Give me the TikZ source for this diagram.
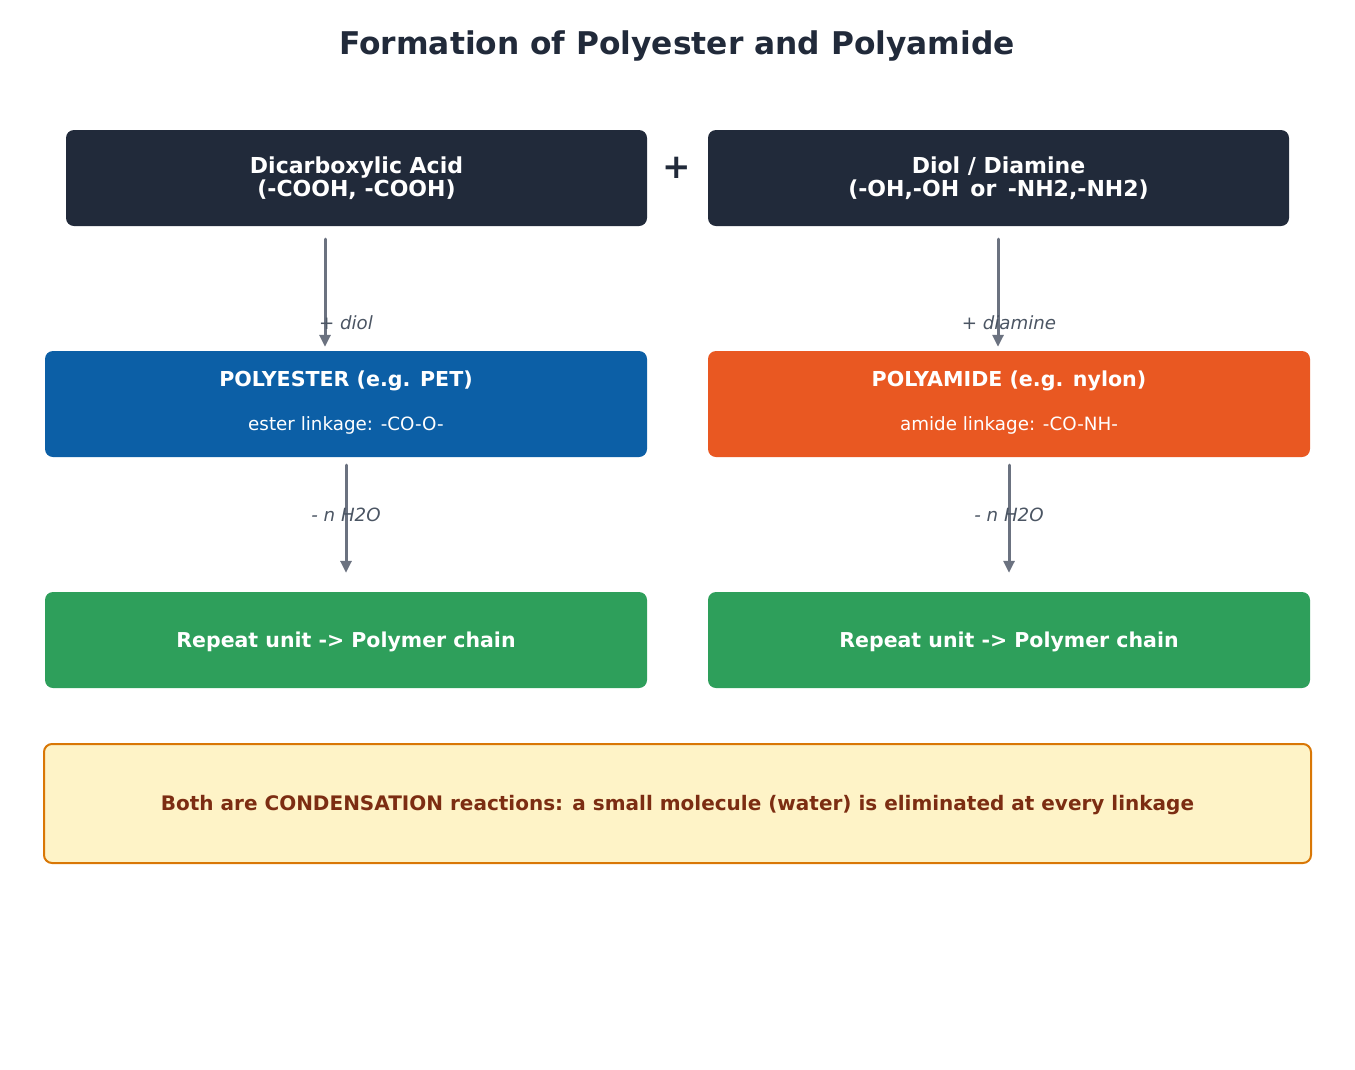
\documentclass[tikz,border=0pt]{standalone}
\usepackage{fontspec}
\setmainfont{DejaVu Sans}
\usetikzlibrary{arrows.meta}

\definecolor{ink}{HTML}{212A3A}
\definecolor{esterblue}{HTML}{0C5FA6}
\definecolor{amideorange}{HTML}{E95822}
\definecolor{chaingreen}{HTML}{2E9F5B}
\definecolor{notefill}{HTML}{FEF3C7}
\definecolor{noteline}{HTML}{D97706}
\definecolor{notetext}{HTML}{7C2D12}
\definecolor{arrowgray}{HTML}{6B7280}
\definecolor{labelgray}{HTML}{4B5563}

\newcommand{\lowtext}[1]{\raisebox{-2pt}[\height][\depth]{#1}}

\begin{document}
\begin{tikzpicture}[x=1pt, y=-1pt,
    card/.style={rectangle, rounded corners=8pt, inner sep=0pt},
    headtxt/.style={font=\fontsize{22}{23}\selectfont\bfseries, text=white, align=center},
    polytxt/.style={font=\fontsize{20.6}{23}\selectfont\bfseries, text=white},
    subtxt/.style={font=\fontsize{18.3}{20}\selectfont, text=white},
    steplabel/.style={font=\fontsize{18.2}{20}\selectfont\itshape, text=labelgray},
    flow/.style={-{Triangle[length=12pt,width=11pt]}, line width=3pt, draw=arrowgray, line cap=round}]

    \useasboundingbox (0,0) rectangle (1355,1069); % page frame

    \node[font=\fontsize{31.3}{34}\selectfont\bfseries, text=ink] (title)
    	at (677,46) {Formation of Polyester and Polyamide};

    % monomers
    \node[card, fill=ink, minimum width=581pt, minimum height=96pt, headtxt] (acid)
    	at (356.5,178) {Dicarboxylic Acid\\(-COOH, -COOH)};
    \node[card, fill=ink, minimum width=581pt, minimum height=96pt, headtxt] (diol)
    	at (998.5,178) {Diol / Diamine\\(-OH,-OH\ \,or\ \,-NH2,-NH2)};
    \node[font=\fontsize{34}{34}\selectfont\bfseries, text=ink] (plus) at (677,168) {+};

    % polymers
    \node[card, fill=esterblue, minimum width=602pt, minimum height=106pt] (ester) at (346,404) {};
    \node[polytxt] (esterhead) at (346,381) {POLYESTER (e.g. PET)};
    \node[subtxt] (estersub) at (346,425) {ester linkage: -CO-O-};

    \node[card, fill=amideorange, minimum width=602pt, minimum height=106pt] (amide) at (1009,404) {};
    \node[polytxt] (amidehead) at (1009,381) {POLYAMIDE (e.g. nylon)};
    \node[subtxt] (amidesub) at (1009,425) {amide linkage: -CO-NH-};

    % chains
    \node[card, fill=chaingreen, minimum width=602pt, minimum height=96pt,
    	font=\fontsize{20.5}{22}\selectfont\bfseries, text=white] (chainL)
    	at (346,640) {\lowtext{Repeat unit -> Polymer chain}};
    \node[card, fill=chaingreen, minimum width=602pt, minimum height=96pt,
    	font=\fontsize{20.5}{22}\selectfont\bfseries, text=white] (chainR)
    	at (1009,640) {\lowtext{Repeat unit -> Polymer chain}};

    % summary
    \node[card, fill=notefill, draw=noteline, line width=2pt, minimum width=1267pt,
    	minimum height=119pt, font=\fontsize{20}{22}\selectfont\bfseries, text=notetext] (summary)
    	at (677.5,803.5) {\lowtext{Both are CONDENSATION reactions: a small molecule (water) is eliminated at every linkage}};

    % arrows
    \draw[flow] ([xshift=-31.5pt,yshift=-13pt]acid.south) -- ([xshift=-21pt,yshift=4pt]ester.north);
    \draw[flow] ([xshift=-0.5pt,yshift=-13pt]diol.south) -- ([xshift=-11pt,yshift=4pt]amide.north);
    \draw[flow] ([yshift=-8pt]ester.south) -- ([yshift=19pt]chainL.north);
    \draw[flow] ([yshift=-8pt]amide.south) -- ([yshift=19pt]chainR.north);

    \node[steplabel] (lbldiol) at (346,323) {+ diol};
    \node[steplabel] (lbldiamine) at (1009,323) {+ diamine};
    \node[steplabel] (lblwaterL) at (346,515) {- n H2O};
    \node[steplabel] (lblwaterR) at (1009,515) {- n H2O};

\end{tikzpicture}
\end{document}
